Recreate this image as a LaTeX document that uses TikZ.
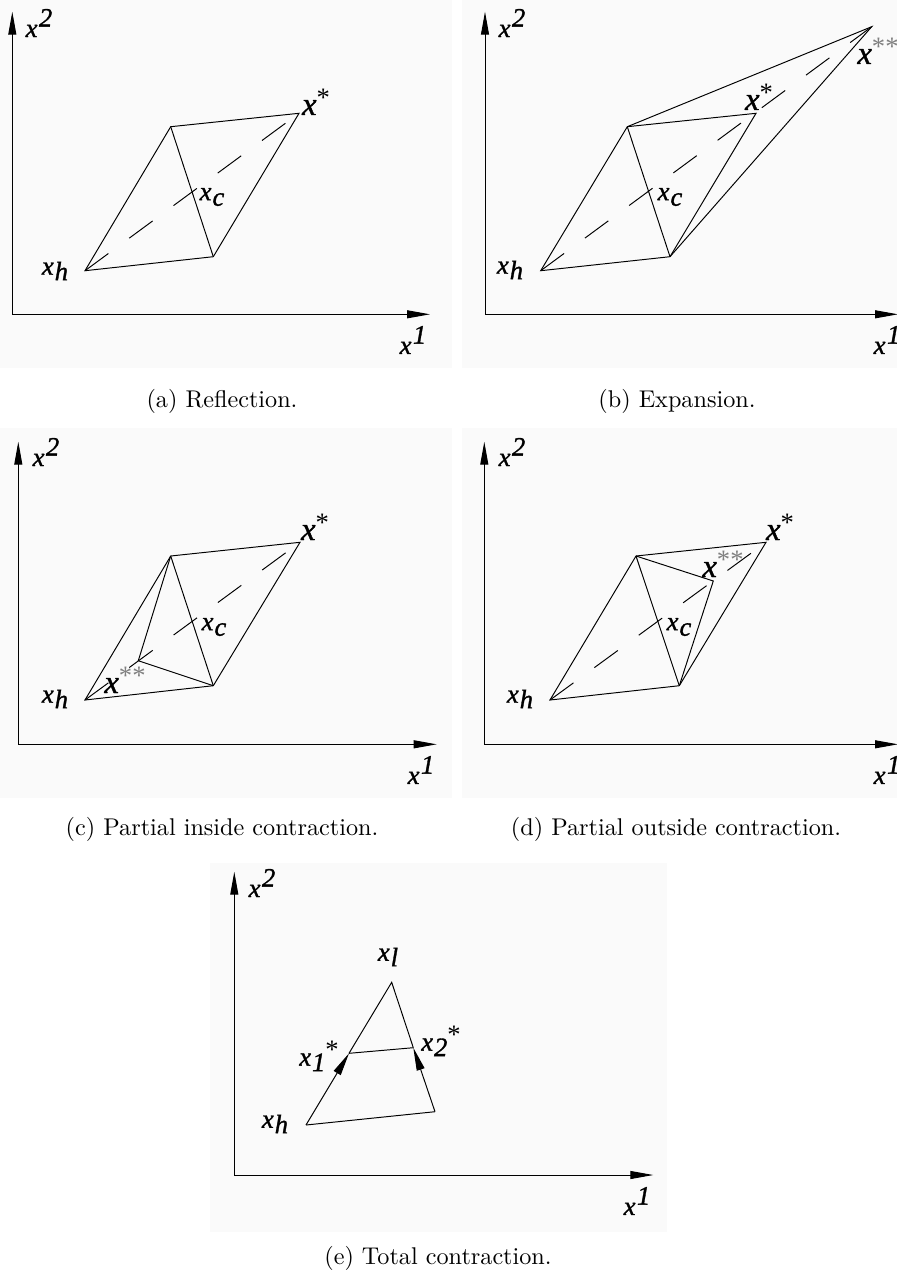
\documentclass[tikz,border=0pt]{standalone}
\usepackage{fontspec}
\usetikzlibrary{arrows.meta}
\newfontfamily\labfont{Liberation Serif}[ItalicFont={Liberation Serif Italic},ItalicFeatures={FakeBold=1.2}]
\definecolor{panelbg}{gray}{0.982}
\newcommand{\xlo}[1]{x\kern.4pt\raisebox{-.45ex}{#1}}
\newcommand{\xhi}[1]{x\kern.6pt\raisebox{.85ex}{#1}}
\newcommand{\xst}{{\fontsize{13.5}{15}\selectfont x}\raisebox{.7ex}{\upshape *}}
\newcommand{\xss}{{\fontsize{13.5}{15}\selectfont x}\raisebox{.7ex}{\upshape\color{gray}**}}
\tikzset{
  lab/.style={font=\labfont\itshape\fontsize{11}{13}\selectfont,inner sep=0pt},
  captext/.style={inner sep=0pt},
  dashline/.style={dash pattern=on 12pt off 10.7pt},
}
\begin{document}
\begin{tikzpicture}[>={Triangle[length=9.5pt,width=3.3pt]},x=0.4132pt,y=-0.4132pt]
\useasboundingbox (0,0) rectangle (897,1272);
% light panel backgrounds
\fill[panelbg] (0,0) rectangle (452,368);
\fill[panelbg] (462,0) rectangle (897,368);
\fill[panelbg] (0,428) rectangle (452,798);
\fill[panelbg] (462,428) rectangle (897,798);
\fill[panelbg] (210,863) rectangle (667,1232);

% (a) reflection
\coordinate (ao) at (12.3,314.3);
\coordinate (ay) at (12.3,11.7);
\coordinate (ax) at (430,314.3);
\draw[->] (ao) -- (ax);
\draw[->] (ao) -- (ay);
\coordinate (ah) at (85,270.7);
\coordinate (av) at (170.7,126.7);
\coordinate (aw) at (213.3,256.7);
\coordinate (ar) at (299,113.3);
\draw (ah) -- (av) -- (ar) -- (aw) -- cycle;
\draw (av) -- (aw);
\draw[dashline] (ah) -- (ar);
\node[lab] (ay2) at (39,23) {\xhi{2}};
\node[lab] (ax1) at (413,340) {\xhi{1}};
\node[lab] (ahl) at (55,271) {\xlo{h}};
\node[lab] (acl) at (212,197) {\xlo{c}};
\node[lab] (arl) at (316,102) {\xst};
\node[captext] (capa) at (222,401) {(a) Reflection.};

% (b) expansion
\coordinate (bo) at (485,314.3);
\coordinate (by) at (485,11.7);
\coordinate (bx) at (898,314.3);
\draw[->] (bo) -- (bx);
\draw[->] (bo) -- (by);
\coordinate (bh) at (540.7,270.7);
\coordinate (bv) at (627.3,126.7);
\coordinate (bw) at (670,256.7);
\coordinate (br) at (756,113.3);
\coordinate (be) at (871.7,26.7);
\draw (bh) -- (bv) -- (br) -- (bw) -- cycle;
\draw (bv) -- (bw);
\draw (bv) -- (be) -- (bw);
\draw[dashline] (bh) -- (be);
\node[lab] (by2) at (512,23) {\xhi{2}};
\node[lab] (bx1) at (887,340) {\xhi{1}};
\node[lab] (bhl) at (510,270) {\xlo{h}};
\node[lab] (bcl) at (670,197) {\xlo{c}};
\node[lab] (brl) at (759,97) {\xst};
\node[lab] (bel) at (878,51) {\xss};
\node[captext] (capb) at (677,401) {(b) Expansion.};

% (c) partial inside contraction
\coordinate (co) at (18.3,744.3);
\coordinate (cy) at (18.3,441.7);
\coordinate (cx) at (436.7,744.3);
\draw[->] (co) -- (cx);
\draw[->] (co) -- (cy);
\coordinate (ch) at (85,700);
\coordinate (cv) at (170.7,556);
\coordinate (cw) at (213.3,685.7);
\coordinate (cr) at (300,542.3);
\coordinate (ci) at (138.3,660.7);
\draw (ch) -- (cv) -- (cr) -- (cw) -- cycle;
\draw (cv) -- (cw);
\draw (cv) -- (ci) -- (cw);
\draw[dashline] (ch) -- (cr);
\node[lab] (cy2) at (46,452) {\xhi{2}};
\node[lab] (cx1) at (421,770) {\xhi{1}};
\node[lab] (chl) at (55,699) {\xlo{h}};
\node[lab] (ccl) at (214,627) {\xlo{c}};
\node[lab] (crl) at (315,527) {\xst};
\node[lab] (cil) at (125,680) {\xss};
\node[captext] (capc) at (222,829) {(c) Partial inside contraction.};

% (d) partial outside contraction
\coordinate (do) at (484.3,744.3);
\coordinate (dy) at (484.3,441.7);
\coordinate (dx) at (898,744.3);
\draw[->] (do) -- (dx);
\draw[->] (do) -- (dy);
\coordinate (dh) at (550,700);
\coordinate (dv) at (636,556);
\coordinate (dw) at (679.3,685.7);
\coordinate (dr) at (766,542.3);
\coordinate (de) at (713.3,581);
\draw (dh) -- (dv) -- (dr) -- (dw) -- cycle;
\draw (dv) -- (dw);
\draw (dv) -- (de) -- (dw);
\draw[dashline] (dh) -- (dr);
\node[lab] (dy2) at (512,452) {\xhi{2}};
\node[lab] (dx1) at (887,770) {\xhi{1}};
\node[lab] (dhl) at (520,699) {\xlo{h}};
\node[lab] (dcl) at (679,627) {\xlo{c}};
\node[lab] (drl) at (780,527) {\xst};
\node[lab] (del) at (723,564) {\xss};
\node[captext] (capd) at (676,829) {(d) Partial outside contraction.};

% (e) total contraction
\coordinate (eo) at (234.3,1175);
\coordinate (ey) at (234.3,871.7);
\coordinate (ex) at (653.3,1175);
\draw[->] (eo) -- (ex);
\draw[->] (eo) -- (ey);
\coordinate (eh) at (306,1125);
\coordinate (el) at (391.7,982.3);
\coordinate (ew) at (435,1111.7);
\coordinate (e1) at (349,1053.3);
\coordinate (e2) at (413.3,1047.7);
\draw (eh) -- (ew);
\draw[->] (eh) -- (e1);
\draw[->] (ew) -- (e2);
\draw (e1) -- (el) -- (e2);
\draw (e1) -- (e2);
\node[lab] (ey2) at (262,883) {\xhi{2}};
\node[lab] (ex1) at (637,1201) {\xhi{1}};
\node[lab] (ehl) at (275,1124) {\xlo{h}};
\node[lab] (ell) at (388,957) {\xlo{l}};
\node[lab] (e1l) at (319,1056) {\xlo{1}\raisebox{.6ex}{\upshape *}};
\node[lab] (e2l) at (441,1041) {\xlo{2}\raisebox{.6ex}{\upshape *}};
\node[captext] (cape) at (438,1258) {(e) Total contraction.};
\end{tikzpicture}
\end{document}
